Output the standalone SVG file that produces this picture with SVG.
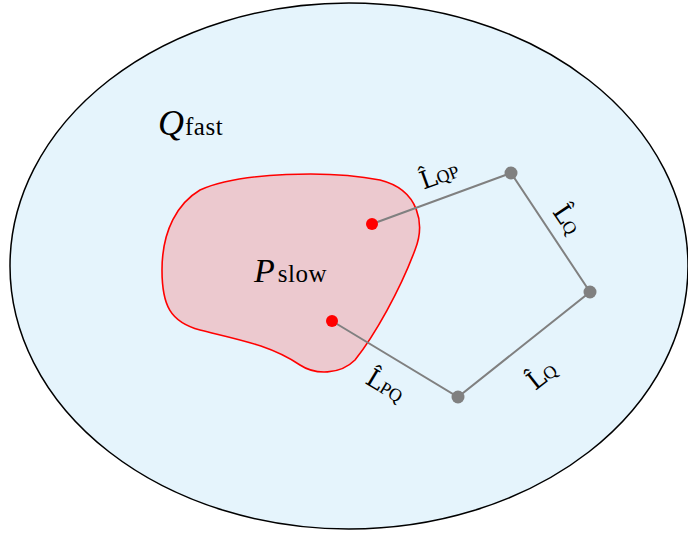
<svg xmlns="http://www.w3.org/2000/svg" width="688" height="533" viewBox="0 0 688 533">
<style>
.lbl{font-family:"Liberation Serif","DejaVu Serif",serif;fill:#000}
.big{font-family:"Liberation Serif",serif;font-size:36px;font-style:italic}
.sub{font-family:"Liberation Serif",serif;font-size:25px;letter-spacing:0.5px}
.L{font-family:"DejaVu Serif",serif;font-size:25px}
.ls{font-family:"Liberation Serif",serif;font-size:18px}
.edge{stroke:#808080;stroke-width:2;fill:none}
.gdot{fill:#808080}
.rdot{fill:#ff0000}
</style>
<rect width="688" height="533" fill="#fff"/>
<g id="Qfast">
<ellipse cx="349" cy="266" rx="339" ry="263" fill="#e5f4fc" stroke="#000" stroke-width="1.5"/>
<text class="lbl" x="158" y="135"><tspan class="big">Q</tspan><tspan class="sub" dx="1">fast</tspan></text>
</g>
<g id="Pslow">
<path d="M162,270 C162,230 178,203 200,190 C240,172 330,170 380,180 C420,190 425,225 415,250 C400,290 375,335 355,360 C340,375 315,375 300,365 C270,345 240,340 200,330 C170,322 162,305 162,270 Z" fill="#ecc9cf" stroke="#ff0000" stroke-width="1.6"/>
<text class="lbl" x="254" y="282"><tspan class="big" style="font-size:34px">P</tspan><tspan class="sub" dx="3">slow</tspan></text>
</g>
<g id="connectors">
<polyline class="edge" points="372,224 511,173 590,292 458,397 332,321"/>
</g>
<g id="p1"><circle class="rdot" cx="372" cy="224" r="6"/></g>
<g id="p2"><circle class="rdot" cx="332" cy="321" r="6"/></g>
<g id="q1"><circle class="gdot" cx="511" cy="173" r="6.5"/></g>
<g id="q2"><circle class="gdot" cx="590" cy="292" r="6.5"/></g>
<g id="q3"><circle class="gdot" cx="458" cy="397" r="6.5"/></g>
<g id="labels">
<text class="lbl" text-anchor="middle" transform="translate(442,183) rotate(-20)"><tspan class="L">L̂</tspan><tspan class="ls">QP</tspan></text>
<text class="lbl" text-anchor="middle" transform="translate(560,224) rotate(56)"><tspan class="L">L̂</tspan><tspan class="ls">Q</tspan></text>
<text class="lbl" text-anchor="middle" transform="translate(547,382) rotate(-38)"><tspan class="L">L̂</tspan><tspan class="ls">Q</tspan></text>
<text class="lbl" text-anchor="middle" transform="translate(381,393) rotate(31)"><tspan class="L">L̂</tspan><tspan class="ls">PQ</tspan></text>
</g>
</svg>
